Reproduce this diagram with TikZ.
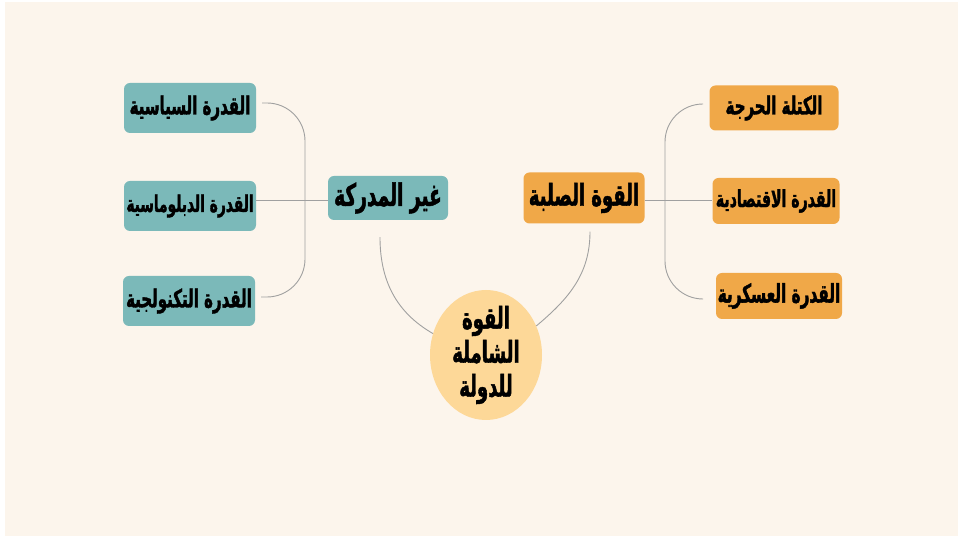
\documentclass[tikz,border=0pt]{standalone}
\usepackage{fontspec}
\usetikzlibrary{shapes.geometric}
\TeXXeTstate=1
\newfontfamily\arabicfont[Script=Arabic, UprightFont=* Bold, FakeStretch=0.6, FakeBold=1.5]{DejaVu Sans}
\definecolor{bgcream}{HTML}{FCF5EC}
\definecolor{tealbox}{HTML}{7BB9B9}
\definecolor{orangebox}{HTML}{F0A848}
\definecolor{ellfill}{HTML}{FDD898}
\definecolor{linegray}{HTML}{A0A0A0}
\begin{document}
\begin{tikzpicture}[x=1pt,y=1pt,
  boxbase/.style={rounded corners=6pt, inner sep=0pt, text=black},
  tealnode/.style={boxbase, fill=tealbox},
  orangenode/.style={boxbase, fill=orangebox},
  fs/.style={font=\arabicfont\fontsize{#1}{#1}\selectfont},
  conn/.style={draw=linegray, line width=0.9pt}]
\fill[white] (0,0) rectangle (962,538);
\fill[bgcream] (5,2) rectangle (958,536);
\useasboundingbox (0,0) rectangle (962,538);

% left (teal) nodes
\node[tealnode, fs=25, minimum width=132, minimum height=50] (pol) at (190,430) {\beginR القدرة السياسية\endR};
\node[tealnode, fs=23, minimum width=132, minimum height=50] (dip) at (190,332) {\beginR القدرة الدبلوماسية\endR};
\node[tealnode, fs=25, minimum width=132, minimum height=50] (tec) at (189,237) {\beginR القدرة التكنولجية\endR};
\node[tealnode, fs=31, minimum width=120, minimum height=44] (ghair) at (388,340) {\beginR غير المدركة\endR};

% right (orange) nodes
\node[orangenode, fs=30, minimum width=121, minimum height=51] (solb) at (584,340) {\beginR القوة الصلبة\endR};
\node[orangenode, fs=25, minimum width=129, minimum height=45] (kutla) at (774,430) {\beginR الكتلة الحرجة\endR};
\node[orangenode, fs=23.5, minimum width=127, minimum height=46] (iqt) at (776,337) {\beginR القدرة الاقتصادية\endR};
\node[orangenode, fs=25.5, minimum width=126, minimum height=46] (ask) at (779,242) {\beginR القدرة العسكرية\endR};

% central ellipse
\node[ellipse, fill=ellfill, minimum width=112, minimum height=130, inner sep=-10pt, align=center,
      font=\arabicfont\fontsize{30}{34}\selectfont] (ell) at (486,183)
      {\beginR القوة\endR\\\beginR الشاملة\endR\\\beginR للدولة\endR};

% bracket coordinates
\coordinate (lbar) at (305,338);
\coordinate (rbar) at (665,338);

% left bracket
\draw[conn, rounded corners=38pt] ([xshift=6pt,yshift=5pt]pol.east) -| (lbar) |- ([xshift=6pt,yshift=4pt]tec.east);
\draw[conn] (dip.east |- lbar) -- (ghair.west |- lbar);

% right bracket
\draw[conn, rounded corners=38pt] ([xshift=-10pt,yshift=4pt]kutla.west) -| (rbar) |- ([xshift=-16pt,yshift=-3pt]ask.west);
\draw[conn] (solb.east |- rbar) -- (iqt.west |- rbar);

% curves to ellipse
\draw[conn] ([xshift=-8pt,yshift=-17pt]ghair.south) to[out=-90,in=150] (ell.158);
\draw[conn] ([xshift=6pt,yshift=-8pt]solb.south) to[out=-90,in=40] (ell.30);
\end{tikzpicture}
\end{document}
